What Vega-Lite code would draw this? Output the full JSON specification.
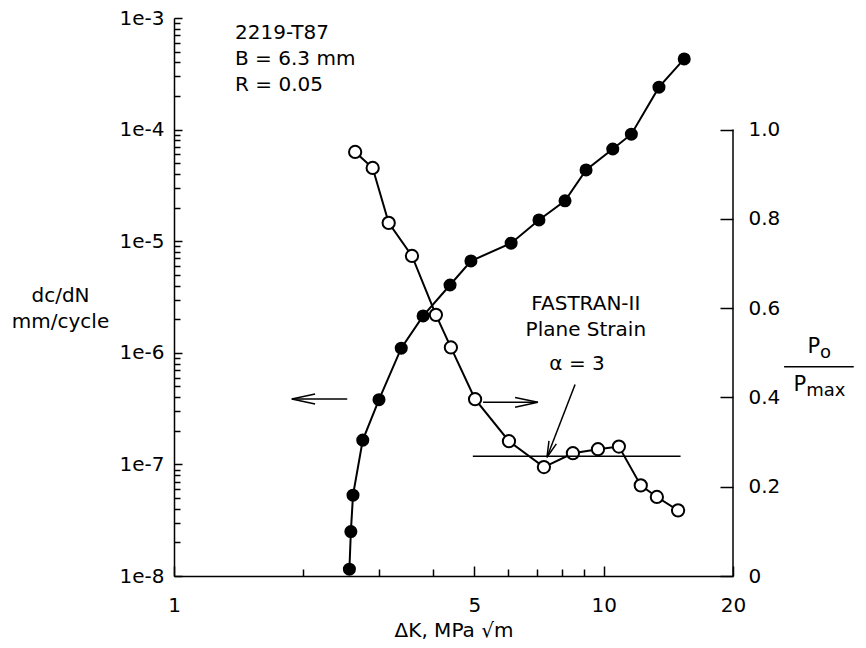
{
  "$schema": "https://vega.github.io/schema/vega-lite/v6.json",
  "width": 559,
  "height": 558,
  "autosize": {"type": "none"},
  "padding": {"left": 174, "top": 18, "right": 133, "bottom": 72},
  "background": "white",
  "config": {
    "view": {"stroke": null},
    "font": "DejaVu Sans",
    "axis": {"labelFont": "DejaVu Sans", "labelFontSize": 20, "labelColor": "black", "domainColor": "black", "tickColor": "black", "domainWidth": 1.5, "tickWidth": 1.5, "grid": false, "titleFont": "DejaVu Sans", "titleFontSize": 20, "titleFontWeight": "normal", "titleColor": "black"},
    "text": {"font": "DejaVu Sans", "fontSize": 20, "color": "black"}
  },
  "datasets": {
    "filled": [
      {"K": 2.56, "v": 1.15e-8}, {"K": 2.58, "v": 2.5e-8}, {"K": 2.61, "v": 5.3e-8}, {"K": 2.75, "v": 1.65e-7},
      {"K": 3.0, "v": 3.8e-7}, {"K": 3.38, "v": 1.1e-6}, {"K": 3.8, "v": 2.14e-6}, {"K": 4.39, "v": 4.05e-6},
      {"K": 4.91, "v": 6.65e-6}, {"K": 6.09, "v": 9.6e-6}, {"K": 7.07, "v": 1.55e-5}, {"K": 8.13, "v": 2.3e-5},
      {"K": 9.1, "v": 4.35e-5}, {"K": 10.5, "v": 6.7e-5}, {"K": 11.6, "v": 9.1e-5}, {"K": 13.45, "v": 2.4e-4},
      {"K": 15.4, "v": 4.3e-4}
    ],
    "open": [
      {"K": 2.64, "r": 0.95}, {"K": 2.9, "r": 0.914}, {"K": 3.16, "r": 0.791}, {"K": 3.58, "r": 0.717},
      {"K": 4.07, "r": 0.585}, {"K": 4.41, "r": 0.512}, {"K": 5.02, "r": 0.396}, {"K": 6.02, "r": 0.302},
      {"K": 7.26, "r": 0.244}, {"K": 8.48, "r": 0.275}, {"K": 9.7, "r": 0.284}, {"K": 10.85, "r": 0.29},
      {"K": 12.2, "r": 0.203}, {"K": 13.3, "r": 0.177}, {"K": 14.9, "r": 0.147}
    ],
    "leftArrow": [
      {"seg": "shaft", "ord": 0, "K": 1.88, "v": 3.86e-7}, {"seg": "shaft", "ord": 1, "K": 2.53, "v": 3.86e-7},
      {"seg": "head", "ord": 0, "K": 2.13, "v": 4.28e-7}, {"seg": "head", "ord": 1, "K": 1.88, "v": 3.86e-7}, {"seg": "head", "ord": 2, "K": 2.13, "v": 3.48e-7}
    ],
    "info": [
      {"label": "2219-T87", "K": 1.387, "v": 7.35e-4},
      {"label": "B = 6.3 mm", "K": 1.387, "v": 4.29e-4},
      {"label": "R = 0.05", "K": 1.387, "v": 2.51e-4}
    ],
    "ratioLines": [
      {"seg": "rshaft", "ord": 0, "K": 5.24, "r": 0.389}, {"seg": "rshaft", "ord": 1, "K": 7.03, "r": 0.389},
      {"seg": "rhead", "ord": 0, "K": 6.22, "r": 0.4}, {"seg": "rhead", "ord": 1, "K": 7.03, "r": 0.389}, {"seg": "rhead", "ord": 2, "K": 6.22, "r": 0.378},
      {"seg": "fshaft", "ord": 0, "K": 8.58, "r": 0.429}, {"seg": "fshaft", "ord": 1, "K": 7.38, "r": 0.266},
      {"seg": "fhead", "ord": 0, "K": 7.76, "r": 0.296}, {"seg": "fhead", "ord": 1, "K": 7.38, "r": 0.266}, {"seg": "fhead", "ord": 2, "K": 7.46, "r": 0.3026},
      {"seg": "fastran", "ord": 0, "K": 4.96, "r": 0.268}, {"seg": "fastran", "ord": 1, "K": 15.1, "r": 0.268},
      {"seg": "raxis", "ord": 0, "K": 20, "r": 0}, {"seg": "raxis", "ord": 1, "K": 20, "r": 1.0},
      {"seg": "fracbar", "ord": 0, "K": 26.3, "r": 0.469}, {"seg": "fracbar", "ord": 1, "K": 38.2, "r": 0.469}
    ],
    "notes": [
      {"label": "FASTRAN-II", "K": 9.09, "r": 0.61},
      {"label": "Plane Strain", "K": 9.09, "r": 0.55},
      {"label": "α = 3", "K": 8.67, "r": 0.476}
    ],
    "frac": [
      {"main": "P", "sub": "o", "K": 31.9, "r": 0.512},
      {"main": "P", "sub": "max", "K": 29.6, "r": 0.427}
    ]
  },
  "encoding": {
    "x": {
      "field": "K", "type": "quantitative",
      "scale": {"type": "log", "domain": [1, 20], "nice": false},
      "axis": {
        "orient": "bottom",
        "values": [1, 2, 3, 4, 5, 6, 7, 8, 9, 10, 20],
        "labelExpr": "(datum.value == 1 || datum.value == 5 || datum.value == 10 || datum.value == 20) ? '' + datum.value : ''",
        "tickSize": {"condition": {"test": "datum.value == 1 || datum.value == 5 || datum.value == 10 || datum.value == 20", "value": -10}, "value": -7},
        "labelPadding": 29,
        "labelFlush": false,
        "labelOverlap": false,
        "title": "ΔK, MPa √m",
        "titlePadding": 2
      }
    }
  },
  "layer": [
    {
      "encoding": {
        "y": {
          "field": "v", "type": "quantitative",
          "scale": {"type": "log", "domain": [1e-8, 0.001], "nice": false},
          "axis": {
            "orient": "left",
            "values": [1e-8, 2e-8, 3e-8, 4e-8, 5e-8, 6e-8, 7e-8, 8e-8, 9e-8,
                       1e-7, 2e-7, 3e-7, 4e-7, 5e-7, 6e-7, 7e-7, 8e-7, 9e-7,
                       1e-6, 2e-6, 3e-6, 4e-6, 5e-6, 6e-6, 7e-6, 8e-6, 9e-6,
                       1e-5, 2e-5, 3e-5, 4e-5, 5e-5, 6e-5, 7e-5, 8e-5, 9e-5,
                       0.0001, 0.0002, 0.0003, 0.0004, 0.0005, 0.0006, 0.0007, 0.0008, 0.0009, 0.001],
            "labelExpr": "abs(log(datum.value)/LN10 - round(log(datum.value)/LN10)) < 0.01 ? '1e' + round(log(datum.value)/LN10) : ''",
            "tickSize": {"condition": {"test": "abs(log(datum.value)/LN10 - round(log(datum.value)/LN10)) < 0.01", "value": -8}, "value": -6},
            "labelPadding": 18,
            "labelFlush": false,
            "labelOverlap": false,
            "title": ["dc/dN", "mm/cycle"],
            "titleAngle": 0,
            "titleX": -114,
            "titleY": 277,
            "titleAlign": "center",
            "titleBaseline": "middle",
            "titleLineHeight": 26
          }
        }
      },
      "layer": [
        {"data": {"name": "filled"}, "mark": {"type": "line", "color": "black", "strokeWidth": 2}},
        {"data": {"name": "filled"}, "mark": {"type": "point", "shape": "circle", "filled": true, "color": "black", "size": 170, "opacity": 1}},
        {"data": {"name": "leftArrow"}, "mark": {"type": "line", "color": "black", "strokeWidth": 1.5},
         "encoding": {"detail": {"field": "seg"}, "order": {"field": "ord", "type": "quantitative"}}},
        {"data": {"name": "info"}, "mark": {"type": "text", "align": "left", "baseline": "middle"},
         "encoding": {"text": {"field": "label"}}}
      ]
    },
    {
      "encoding": {
        "y": {
          "field": "r", "type": "quantitative",
          "scale": {"domain": [0, 1.25], "nice": false, "zero": false},
          "axis": {
            "orient": "right",
            "values": [0, 0.2, 0.4, 0.6, 0.8, 1.0],
            "labelExpr": "datum.value == 0 ? '0' : format(datum.value, '.1f')",
            "tickSize": -13,
            "labelPadding": 28,
            "domain": false,
            "title": null,
            "labelFlush": false,
            "labelOverlap": false
          }
        }
      },
      "layer": [
        {"data": {"name": "open"}, "mark": {"type": "line", "color": "black", "strokeWidth": 2}},
        {"data": {"name": "open"}, "mark": {"type": "point", "shape": "circle", "filled": true, "fill": "white", "stroke": "black", "strokeWidth": 2, "size": 150, "opacity": 1}},
        {"data": {"name": "ratioLines"}, "mark": {"type": "line", "color": "black", "strokeWidth": 1.5},
         "encoding": {"detail": {"field": "seg"}, "order": {"field": "ord", "type": "quantitative"}}},
        {"data": {"name": "notes"}, "mark": {"type": "text", "align": "center", "baseline": "middle"},
         "encoding": {"text": {"field": "label"}}},
        {"data": {"name": "frac"}, "mark": {"type": "text", "align": "right", "baseline": "middle", "fontSize": 21},
         "encoding": {"text": {"field": "main"}}},
        {"data": {"name": "frac"}, "mark": {"type": "text", "align": "left", "baseline": "middle", "fontSize": 18, "dy": 6},
         "encoding": {"text": {"field": "sub"}}}
      ]
    }
  ],
  "resolve": {"scale": {"y": "independent"}}
}
